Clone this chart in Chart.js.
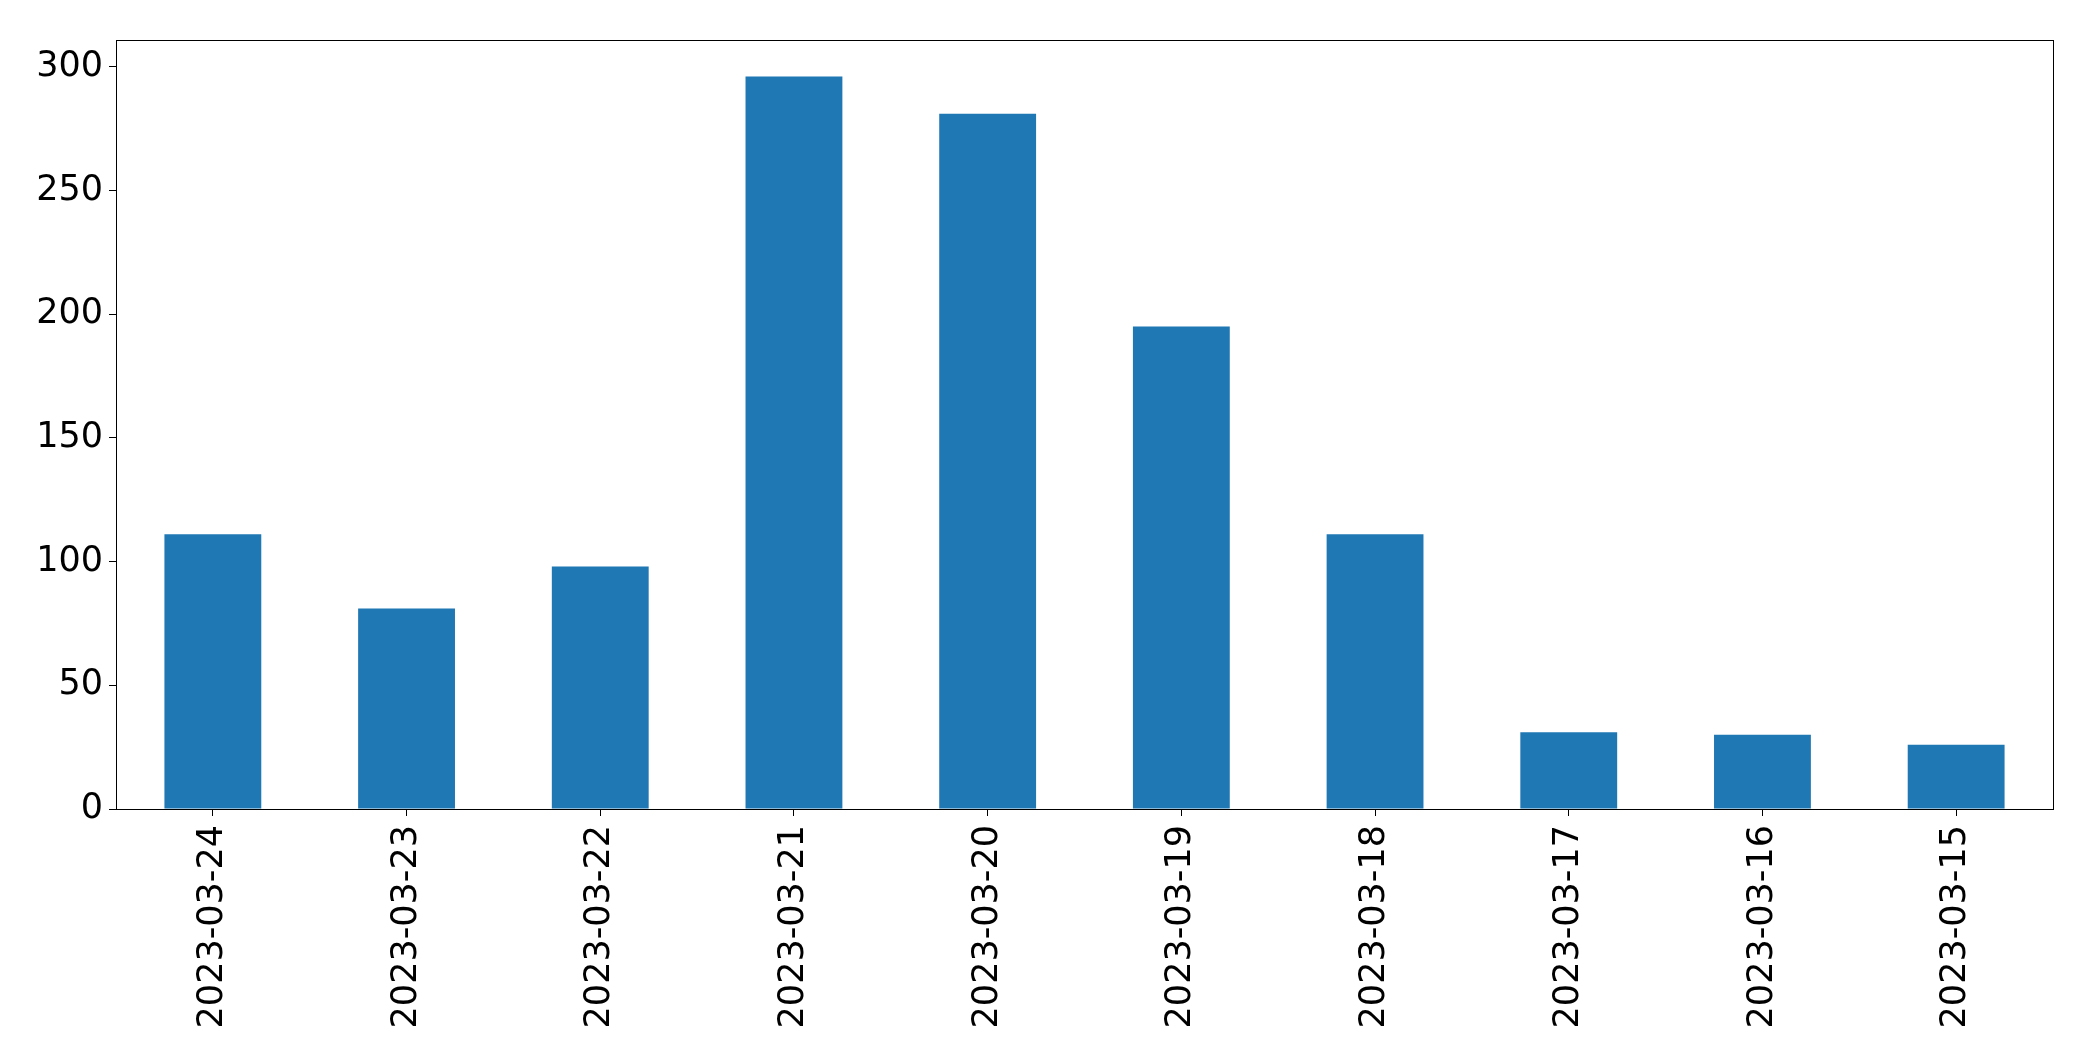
<!DOCTYPE html>
<html>
<head>
<meta charset="utf-8">
<script src="https://cdn.jsdelivr.net/npm/chart.js@4.4.0/dist/chart.umd.min.js"></script>
<style>
  html, body { margin: 0; padding: 0; background: #fff; }
  #wrap { width: 2093px; height: 1061px; }
</style>
</head>
<body>
<div id="wrap"><canvas id="grafico"></canvas></div>
<script>
// Dados do gráfico
const datas = ['2023-03-24', '2023-03-23', '2023-03-22', '2023-03-21', '2023-03-20',
               '2023-03-19', '2023-03-18', '2023-03-17', '2023-03-16', '2023-03-15'];
const contagens = [111, 81, 98, 296, 281, 195, 111, 31, 30, 26];
const ticksY = [0, 50, 100, 150, 200, 250, 300];

const corBarra = '#1f77b4';
const fonte = { family: 'DejaVu Sans', size: 35 };

// Moldura completa em volta da área do gráfico (estilo matplotlib)
const moldura = {
    id: 'moldura',
    afterDraw(chart) {
        const { ctx, chartArea: a } = chart;
        ctx.save();
        ctx.strokeStyle = '#000';
        ctx.lineWidth = 1;
        ctx.strokeRect(a.left + 0.5, a.top + 0.5, a.right - a.left, a.bottom - a.top);
        ctx.restore();
    }
};

new Chart(document.getElementById('grafico'), {
    type: 'bar',
    data: {
        labels: datas,
        datasets: [{
            data: contagens,
            backgroundColor: corBarra,
            borderWidth: 0,
            categoryPercentage: 1.0,
            barPercentage: 0.5
        }]
    },
    options: {
        responsive: true,
        maintainAspectRatio: false,
        animation: false,
        layout: { padding: { top: 40, right: 40, left: 0, bottom: 0 } },
        plugins: {
            legend: { display: false },
            tooltip: { enabled: false }
        },
        scales: {
            x: {
                grid: { offset: false, drawOnChartArea: false, drawTicks: true, tickLength: 7, color: '#000' },
                border: { color: '#000', width: 1 },
                ticks: {
                    color: '#000',
                    font: fonte,
                    maxRotation: 90,
                    minRotation: 90,
                    padding: 9,
                    autoSkip: false
                },
                afterFit(scale) { scale.height = 1061 - 809; }
            },
            y: {
                min: 0,
                max: Math.max(...contagens) * 1.05,
                afterBuildTicks(scale) { scale.ticks = ticksY.map(v => ({ value: v })); },
                grid: { drawOnChartArea: false, drawTicks: true, tickLength: 7, color: '#000' },
                border: { color: '#000', width: 1 },
                ticks: { color: '#000', font: fonte, padding: 6 },
                afterFit(scale) { scale.width = 116; }
            }
        }
    },
    plugins: [moldura]
});
</script>
</body>
</html>
